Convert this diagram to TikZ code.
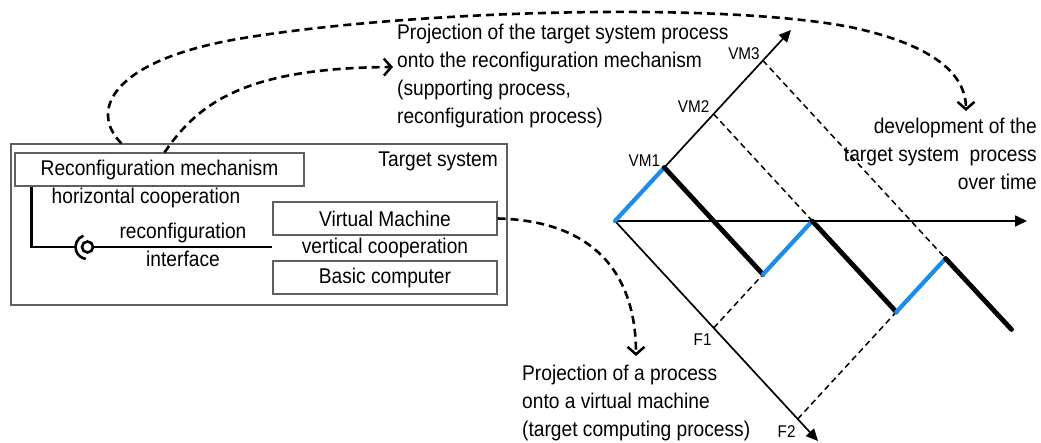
\documentclass[tikz,border=0pt]{standalone}
\usepackage{fontspec}
\setmainfont[FakeStretch=0.9]{Liberation Sans}
\usetikzlibrary{arrows.meta,calc}
\definecolor{boxgray}{RGB}{95,95,95}
\definecolor{procblue}{RGB}{25,140,240}
\begin{document}
\begin{tikzpicture}[x=1pt,y=-1pt,
  txt/.style={font=\fontsize{21.3}{28}\selectfont, inner sep=0pt},
  lbl/.style={font=\fontsize{17}{20}\selectfont, inner sep=0pt},
  part/.style={draw=boxgray, line width=1.1pt, inner sep=0pt,
               font=\fontsize{21.3}{28}\selectfont, minimum height=33pt},
  dcurve/.style={line width=2.6pt, dash pattern=on 8pt off 5pt,
                 -{Straight Barb[length=7.5pt,width=17pt,line width=2.5pt]}},
  axis/.style={line width=1.7pt, -{Triangle[length=12pt,width=11pt]}},
  grid/.style={line width=1.5pt, dash pattern=on 6pt off 4pt},
  vmseg/.style={line width=4.2pt, procblue, line cap=round},
  fseg/.style={line width=4.8pt, black, line cap=round},
  link/.style={line width=2.6pt}]
\useasboundingbox (0,0) rectangle (1041,443);

% ---------- target system block ----------
\node[draw=boxgray, line width=1.1pt, minimum width=496pt, minimum height=161pt,
      inner sep=0pt] (tsbox) at (259,224.5) {};
\node[txt, anchor=base east] (tslabel) at (498,167) {Target system};
\node[part, minimum width=289pt] (recbox) at (159.5,169.5) {Reconfiguration mechanism};
\node[part, minimum width=224pt] (vmbox) at (385,218.5) {Virtual Machine};
\node[part, minimum width=224pt] (bcbox) at (385,277.5) {Basic computer};
\node[txt] (hcoop) at (146,198) {horizontal cooperation};
\node[txt] (vcoop) at (385,248) {vertical cooperation};
\node[txt, align=center] (rif) at (183,245) {reconfiguration\\interface};

% assembly connector: socket on the mechanism side, ball on the machine side
\node[circle, draw, line width=2.6pt, minimum size=11pt, inner sep=0pt] (ball) at (87.5,247) {};
\coordinate (hook) at ($(recbox.south west)+(17,0)$);
\coordinate (sockettop) at ($(ball)+(110:12pt)$);
\draw[link] (hook) |- ($(ball)+(-12,0)$);
\draw[link] (sockettop) arc[start angle=110, end angle=262, radius=12pt];
\draw[link] (ball.east) -- (ball -| vmbox.west);

% ---------- process development diagram ----------
\coordinate (O) at (615,221);
\coordinate (Uend) at (791,30);
\coordinate (Vend) at (818,441);
\coordinate (Hend) at (1027,221);
\coordinate (VM1) at (664.3,167.5);
\coordinate (VM2) at (713.6,114);
\coordinate (VM3) at (762.9,60.5);
\coordinate (F1) at (713.7,327.9);
\coordinate (F2) at (797.7,419);
\coordinate (P1) at (763,274.4);
\coordinate (P2) at (812.3,221);
\coordinate (P3) at (896.3,312);
\coordinate (P4) at (945.6,258.5);
\coordinate (Pend) at (1011.5,329.5);

\draw[grid] (VM2) -- (P2);
\draw[grid] (VM3) -- (P4);
\draw[grid] (F1) -- (P1);
\draw[grid] (F2) -- (P3);

\draw[axis] (O) -- (Hend);
\draw[axis] (O) -- (Uend);
\draw[axis] (O) -- (Vend);

\draw[vmseg] (O) -- (VM1);
\draw[fseg] (VM1) -- (P1);
\draw[vmseg] (P1) -- (P2);
\draw[fseg] (P2) -- (P3);
\draw[vmseg] (P3) -- (P4);
\draw[fseg] (P4) -- (Pend);

\node[lbl, anchor=south east] (vm1lbl) at ($(VM1)+(-4,-1)$) {VM1};
\node[lbl, anchor=south east] (vm2lbl) at ($(VM2)+(-4,-1)$) {VM2};
\node[lbl, anchor=south east] (vm3lbl) at ($(VM3)+(-3,-1)$) {VM3};
\node[lbl, anchor=north east] (f1lbl) at ($(F1)+(-2,5.5)$) {F1};
\node[lbl, anchor=north east] (f2lbl) at ($(F2)+(-2,6.5)$) {F2};

% ---------- explanatory texts ----------
\node[txt, align=left, anchor=north west] (projrec) at (397,24)
  {Projection of the target system process\\onto the reconfiguration mechanism\\(supporting process,\\reconfiguration process)};
\node[txt, align=right, anchor=north east] (devtxt) at (1037,118)
  {development of the\\target system~ process\\over time};
\node[txt, align=left, anchor=north west] (projvm) at (522,365)
  {Projection of a process\\onto a virtual machine\\(target computing process)};

\coordinate (devtip) at (966,111);
\coordinate (rectip) at (393,67);
\coordinate (vmtip) at (636,356);

\draw[dcurve] ($(tsbox.north west)+(111,0)$) .. controls (88,110) and (112,58) .. (250,37)
  .. controls (420,10) and (720,2) .. (850,27)
  .. controls (935,45) and (966,75) .. (devtip);
\draw[dcurve] ($(recbox.north)+(5,0)$) .. controls (200,100) and (250,68) .. (rectip);
\draw[dcurve] (vmbox.east) .. controls (600,221) and (636,280) .. (vmtip);
\end{tikzpicture}
\end{document}
